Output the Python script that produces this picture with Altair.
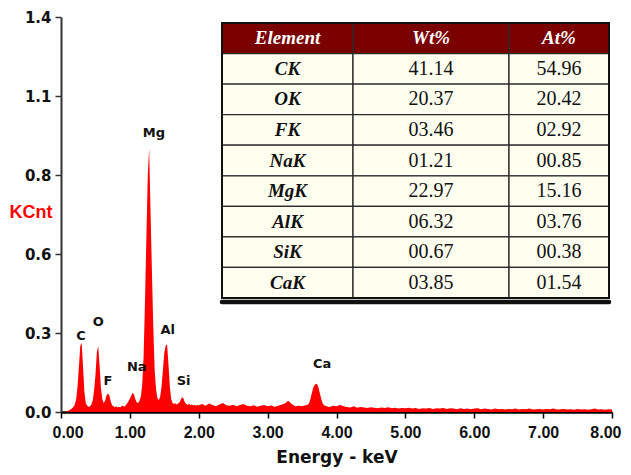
import altair as alt
import pandas as pd

# ---------------- spectrum data ----------------
energy = [
    0.00, 0.02, 0.04, 0.06, 0.08, 0.10, 0.12, 0.14, 0.16, 0.18,
    0.20, 0.22, 0.24, 0.26, 0.28, 0.30, 0.32, 0.34, 0.36, 0.38,
    0.40, 0.42, 0.44, 0.46, 0.48, 0.50, 0.52, 0.54, 0.56, 0.58,
    0.60, 0.62, 0.64, 0.66, 0.68, 0.70, 0.72, 0.74, 0.76, 0.78,
    0.80, 0.82, 0.84, 0.86, 0.88, 0.90, 0.92, 0.94, 0.96, 0.98,
    1.00, 1.02, 1.04, 1.06, 1.08, 1.10, 1.12, 1.14, 1.16, 1.18,
    1.20, 1.22, 1.24, 1.26, 1.28, 1.30, 1.32, 1.34, 1.36, 1.38,
    1.40, 1.42, 1.44, 1.46, 1.48, 1.50, 1.52, 1.54, 1.56, 1.58,
    1.60, 1.62, 1.64, 1.66, 1.68, 1.70, 1.72, 1.74, 1.76, 1.78,
    1.80, 1.82, 1.84, 1.86, 1.88, 1.90, 1.92, 1.94, 1.96, 1.98,
    2.00, 2.05, 2.10, 2.15, 2.20, 2.25, 2.30, 2.35, 2.40, 2.45,
    2.50, 2.55, 2.60, 2.65, 2.70, 2.75, 2.80, 2.85, 2.90, 2.95,
    3.00, 3.05, 3.10, 3.15, 3.20, 3.25, 3.30, 3.35, 3.40, 3.45,
    3.50, 3.55, 3.58, 3.60, 3.62, 3.64, 3.66, 3.68, 3.70, 3.72,
    3.74, 3.76, 3.78, 3.80, 3.82, 3.85, 3.90, 3.95, 4.00, 4.05,
    4.10, 4.15, 4.20, 4.25, 4.30, 4.35, 4.40, 4.45, 4.50, 4.55,
    4.60, 4.65, 4.70, 4.75, 4.80, 4.85, 4.90, 4.95, 5.00, 5.05,
    5.10, 5.15, 5.20, 5.25, 5.30, 5.35, 5.40, 5.45, 5.50, 5.55,
    5.60, 5.65, 5.70, 5.75, 5.80, 5.85, 5.90, 5.95, 6.00, 6.05,
    6.10, 6.15, 6.20, 6.25, 6.30, 6.35, 6.40, 6.45, 6.50, 6.55,
    6.60, 6.65, 6.70, 6.75, 6.80, 6.85, 6.90, 6.95, 7.00, 7.05,
    7.10, 7.15, 7.20, 7.25, 7.30, 7.35, 7.40, 7.45, 7.50, 7.55,
    7.60, 7.65, 7.70, 7.75, 7.80, 7.85, 7.90, 7.95, 8.00,
]
kcnt = [
    0.000, 0.000, 0.000, 0.001, 0.002, 0.004, 0.006, 0.009, 0.013, 0.018,
    0.026, 0.045, 0.090, 0.160, 0.235, 0.245, 0.160, 0.070, 0.032, 0.022,
    0.018, 0.020, 0.026, 0.040, 0.075, 0.130, 0.210, 0.235, 0.165, 0.085,
    0.045, 0.032, 0.040, 0.058, 0.066, 0.060, 0.040, 0.025, 0.020, 0.017,
    0.020, 0.016, 0.019, 0.017, 0.020, 0.022, 0.019, 0.024, 0.030, 0.038,
    0.048, 0.058, 0.068, 0.062, 0.045, 0.034, 0.032, 0.040, 0.055, 0.100,
    0.200, 0.400, 0.620, 0.840, 0.935, 0.710, 0.500, 0.300, 0.150, 0.080,
    0.050, 0.042, 0.055, 0.090, 0.150, 0.210, 0.235, 0.240, 0.170, 0.090,
    0.045, 0.032, 0.028, 0.031, 0.027, 0.030, 0.034, 0.044, 0.053, 0.047,
    0.033, 0.028, 0.025, 0.030, 0.024, 0.027, 0.023, 0.026, 0.022, 0.025,
    0.024, 0.028, 0.022, 0.030, 0.025, 0.020, 0.027, 0.032, 0.024, 0.022,
    0.026, 0.020, 0.025, 0.028, 0.022, 0.020, 0.024, 0.019, 0.022, 0.025,
    0.020, 0.023, 0.019, 0.022, 0.026, 0.030, 0.040, 0.028, 0.020, 0.022,
    0.020, 0.024, 0.026, 0.030, 0.045, 0.065, 0.085, 0.095, 0.100, 0.098,
    0.085, 0.065, 0.045, 0.030, 0.024, 0.020, 0.018, 0.022, 0.020, 0.025,
    0.020, 0.018, 0.016, 0.020, 0.015, 0.018, 0.016, 0.014, 0.017, 0.015,
    0.013, 0.016, 0.014, 0.017, 0.013, 0.015, 0.012, 0.014, 0.013, 0.015,
    0.012, 0.014, 0.011, 0.013, 0.012, 0.014, 0.011, 0.013, 0.012, 0.014,
    0.011, 0.013, 0.012, 0.010, 0.013, 0.011, 0.012, 0.010, 0.012, 0.013,
    0.010, 0.012, 0.011, 0.009, 0.012, 0.010, 0.011, 0.009, 0.011, 0.010,
    0.012, 0.009, 0.011, 0.010, 0.012, 0.009, 0.010, 0.011, 0.009, 0.011,
    0.010, 0.012, 0.009, 0.010, 0.011, 0.009, 0.010, 0.008, 0.011, 0.009,
    0.010, 0.008, 0.010, 0.012, 0.009, 0.010, 0.008, 0.010, 0.009,
]

# peak labels
peak_names = ["C", "O", "F", "Na", "Mg", "Al", "Si", "Ca"]
peak_x = [0.29, 0.54, 0.68, 1.10, 1.35, 1.55, 1.78, 3.79]
peak_y = [0.27, 0.32, 0.11, 0.16, 0.99, 0.29, 0.11, 0.17]

# axis ticks
x_ticks = [0, 1, 2, 3, 4, 5, 6, 7, 8]
y_ticks = [0.0, 0.28, 0.56, 0.84, 1.12, 1.4]

# table contents
headers = ["Element", "Wt%", "At%"]
elements = ["CK", "OK", "FK", "NaK", "MgK", "AlK", "SiK", "CaK"]
wt_pct = ["41.14", "20.37", "03.46", "01.21", "22.97", "06.32", "00.67", "03.85"]
at_pct = ["54.96", "20.42", "02.92", "00.85", "15.16", "03.76", "00.38", "01.54"]

# table layout (relative column widths)
col_widths = [131, 156, 100]

# ---------------- build frames ----------------
spec_df = pd.DataFrame({"energy": energy, "kcnt": kcnt})
lab_df = pd.DataFrame({"name": peak_names, "x": peak_x, "y": peak_y})

edges = [0]
for w in col_widths:
    edges.append(edges[-1] + w)
total_w = edges[-1]

rows = []
for c, h in enumerate(headers):
    rows.append({"row": 0, "row2": 1, "left": edges[c], "right": edges[c + 1],
                 "mid": (edges[c] + edges[c + 1]) / 2, "rmid": 0.5,
                 "text": h, "kind": "header"})
for i in range(len(elements)):
    vals = [elements[i], wt_pct[i], at_pct[i]]
    for c, v in enumerate(vals):
        rows.append({"row": i + 1, "row2": i + 2, "left": edges[c], "right": edges[c + 1],
                     "mid": (edges[c] + edges[c + 1]) / 2, "rmid": i + 1.5,
                     "text": v, "kind": "elem" if c == 0 else "num"})
cell_df = pd.DataFrame(rows)
nrows = len(elements) + 1

# ---------------- spectrum ----------------
x_sc = alt.Scale(domain=[0, 8], nice=False, zero=False)
y_sc = alt.Scale(domain=[0, 1.4], nice=False)

area = alt.Chart(spec_df).mark_area(color="#ff0000", interpolate="linear").encode(
    x=alt.X("energy:Q", scale=x_sc, axis=alt.Axis(
        values=x_ticks, format=".2f", title="Energy - keV", grid=False,
        domainColor="#000", domainWidth=2.5, tickColor="#000", tickWidth=1.5, tickSize=6,
        labelFont="Liberation Sans", labelFontWeight="bold", labelFontSize=16,
        labelColor="#111", labelPadding=6, labelFlush=True, labelFlushOffset=9,
        labelOverlap=False,
        titleFont="DejaVu Sans", titleFontWeight="bold", titleFontSize=17,
        titleColor="#111", titlePadding=9)),
    y=alt.Y("kcnt:Q", scale=y_sc, axis=alt.Axis(
        values=y_ticks, format=".1f", title="KCnt", grid=False,
        domainColor="#333", domainWidth=2, tickColor="#333", tickWidth=1.5, tickSize=6,
        labelFont="DejaVu Sans", labelFontWeight="bold", labelFontSize=15,
        labelColor="#111", labelPadding=4, labelFlush=False, labelOverlap=False,
        titleFont="Liberation Sans", titleFontWeight="bold", titleFontSize=18,
        titleColor="#ff0000", titleAngle=0, titleAlign="left", titleBaseline="middle",
        titleX=-52, titleY=195)),
)

labels = alt.Chart(lab_df).mark_text(
    font="DejaVu Sans", fontWeight="bold", fontSize=13, color="#111"
).encode(
    x=alt.X("x:Q", scale=x_sc),
    y=alt.Y("y:Q", scale=y_sc),
    text="name:N",
)

spectrum = alt.layer(area, labels)

# ---------------- table inset ----------------
tx = alt.Scale(domain=[0, total_w], range=[161, 548], nice=False, zero=False)
ty = alt.Scale(domain=[0, nrows], range=[6, 281], nice=False, zero=False)

cells = alt.Chart(cell_df).mark_rect(stroke="#2a2a2a", strokeWidth=1.3).encode(
    x=alt.X("left:Q", scale=tx, axis=None), x2="right:Q",
    y=alt.Y("row:Q", scale=ty, axis=None), y2="row2:Q",
    fill=alt.Fill("kind:N", legend=None, scale=alt.Scale(
        domain=["header", "elem", "num"], range=["#7a0000", "#fffff0", "#fffff0"])),
)

frame_df = pd.DataFrame({"left": [0], "right": [total_w], "row": [0], "row2": [nrows],
                         "base": [nrows + 0.13]})
frame = alt.Chart(frame_df).mark_rect(fillOpacity=0, stroke="#111", strokeWidth=2).encode(
    x=alt.X("left:Q", scale=tx, axis=None), x2="right:Q",
    y=alt.Y("row:Q", scale=ty, axis=None), y2="row2:Q",
)
base_rule = alt.Chart(frame_df).mark_rule(strokeWidth=4.5, strokeCap="round", color="#111").encode(
    x=alt.X("left:Q", scale=tx, axis=None), x2="right:Q",
    y=alt.Y("base:Q", scale=ty, axis=None),
)

def table_text(kind, **style):
    return alt.Chart(cell_df).transform_filter(alt.datum.kind == kind).mark_text(
        baseline="middle", align="center", **style
    ).encode(
        x=alt.X("mid:Q", scale=tx, axis=None),
        y=alt.Y("rmid:Q", scale=ty, axis=None),
        text="text:N",
    )

head_txt = table_text("header", font="Liberation Serif", fontWeight="bold",
                      fontStyle="italic", fontSize=19, color="#ffffff")
elem_txt = table_text("elem", font="Liberation Serif", fontWeight="bold",
                      fontStyle="italic", fontSize=19, color="#111")
num_txt = table_text("num", font="Liberation Serif", fontSize=20, color="#111")

table = alt.layer(cells, frame, base_rule, head_txt, elem_txt, num_txt)

chart = alt.layer(spectrum, table).resolve_scale(
    x="independent", y="independent"
).properties(
    width=551, height=395,
    autosize="none",
    padding={"left": 53, "top": 9, "right": 11, "bottom": 55},
    background="white",
).configure_view(strokeWidth=0)

chart.save("out.html", embed_options={"renderer": "svg", "actions": False})
